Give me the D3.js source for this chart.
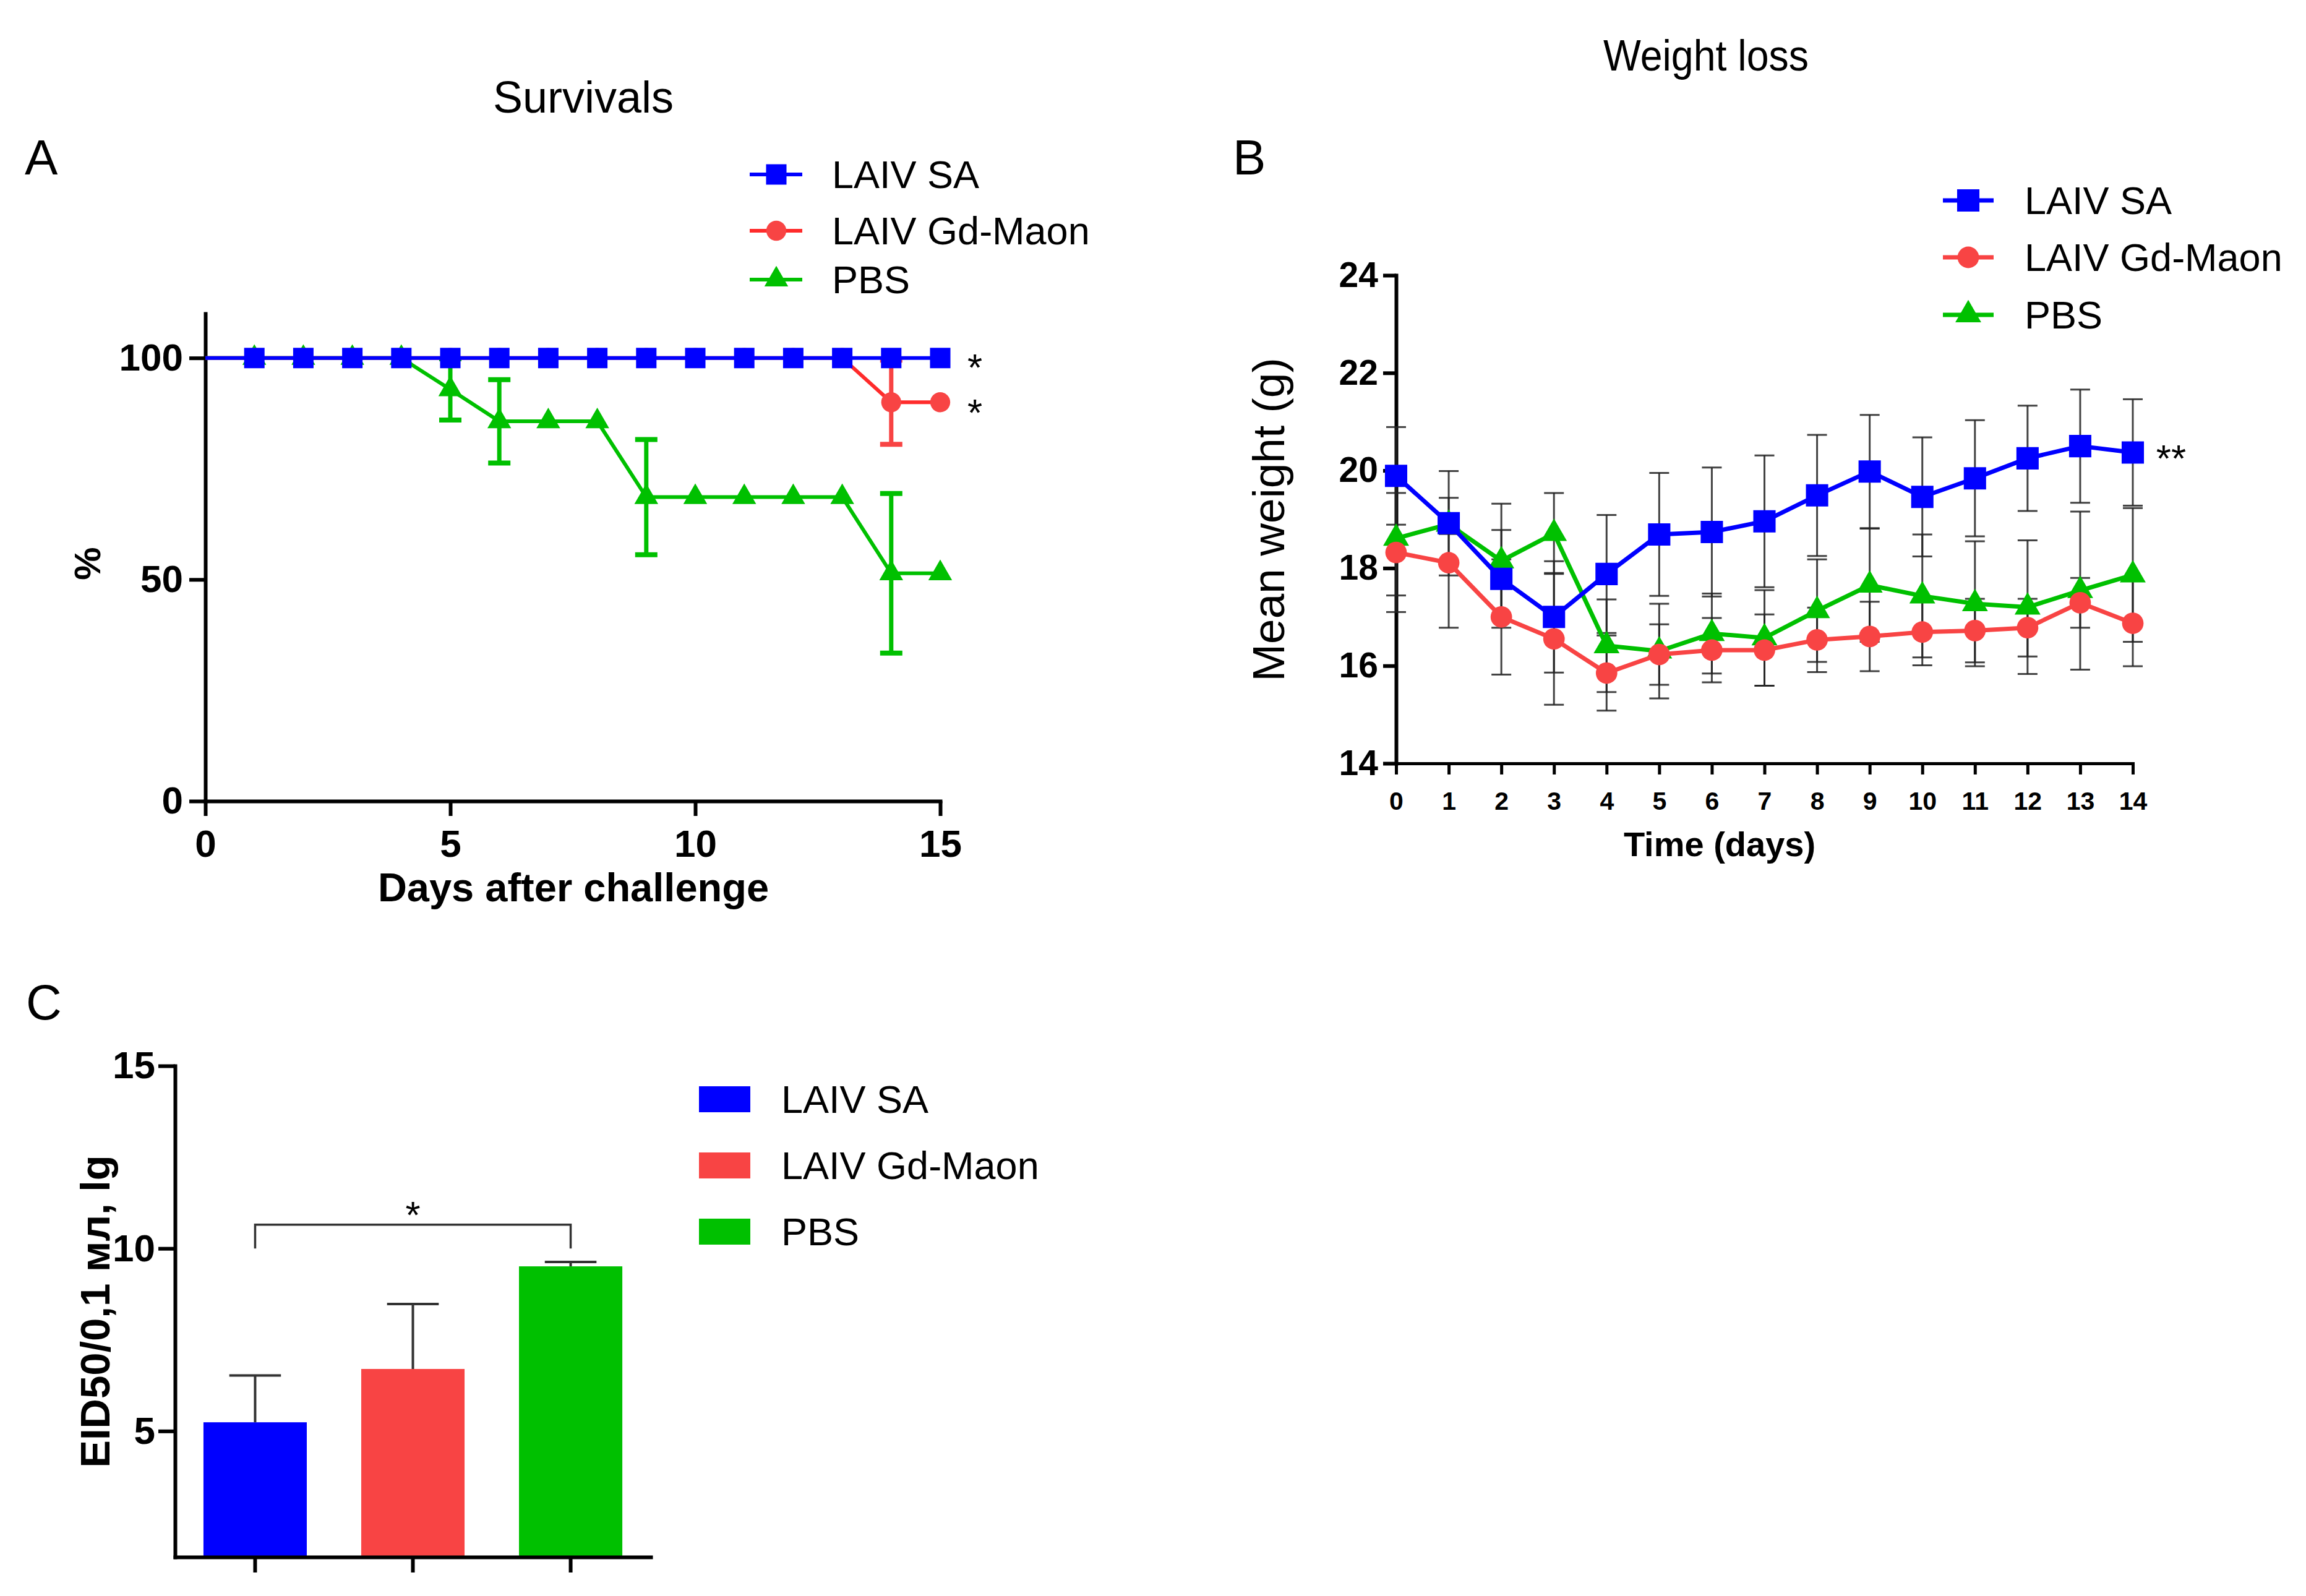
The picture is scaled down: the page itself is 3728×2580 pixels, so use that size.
<!DOCTYPE html>
<html><head><meta charset="utf-8">
<script src="https://cdn.jsdelivr.net/npm/d3@7"></script>
<style>
body{margin:0;background:#fff}
svg{display:block}
text{font-family:"Liberation Sans",Arial,sans-serif;fill:#000}
</style>
</head><body>
<svg id="chart" width="3728" height="2580"></svg>
<script>
// ---------- DATA ----------
const seriesNames = ["LAIV SA", "LAIV Gd-Maon", "PBS"];

// Panel A: survival (%)
const survDays = [0,1,2,3,4,5,6,7,8,9,10,11,12,13,14,15];
const survSA    = [100,100,100,100,100,100,100,100,100,100,100,100,100,100,100,100];
const survGd    = [100,100,100,100,100,100,100,100,100,100,100,100,100,100,90,90];
const survPBS   = [100,100,100,100,100,92.9,85.7,85.7,85.7,68.6,68.6,68.6,68.6,68.6,51.4,51.4];
const survSAErr = [0,0,0,0,0,0,0,0,0,0,0,0,0,0,0,0];
const survGdErr = [0,0,0,0,0,0,0,0,0,0,0,0,0,0,9.5,0];
const survPBSErr= [0,0,0,0,0,6.9,9.4,0,0,13,0,0,0,0,18,0];
const survXTicks = [0,5,10,15];
const survYTicks = [0,50,100];

// Panel B: mean weight (g) with SD
const weightDays = [0,1,2,3,4,5,6,7,8,9,10,11,12,13,14];
const weightSA    = [19.89,18.92,17.78,17.0,17.88,18.69,18.74,18.96,19.49,19.98,19.46,19.84,20.25,20.5,20.37];
const weightGd    = [18.32,18.11,17.0,16.55,15.85,16.23,16.32,16.32,16.53,16.6,16.69,16.72,16.78,17.29,16.87];
const weightPBS   = [18.61,18.9,18.15,18.71,16.41,16.3,16.66,16.57,17.13,17.65,17.43,17.27,17.2,17.54,17.86];
const weightSASd  = [1.0,1.07,1.0,1.14,1.21,1.26,1.32,1.35,1.24,1.16,1.22,1.19,1.08,1.16,1.09];
const weightGdSd  = [1.22,1.33,1.18,1.35,0.77,0.62,0.66,0.73,0.66,0.71,0.68,0.65,0.59,0.51,0.88];
const weightPBSSd = [1.17,0.2,1.17,0.83,0.95,0.97,0.82,0.98,1.05,1.16,1.26,1.28,1.37,1.62,1.37];
const weightXTicks = [0,1,2,3,4,5,6,7,8,9,10,11,12,13,14];
const weightYTicks = [14,16,18,20,22,24];

// Panel C: virus titre
const viralValues = [5.24, 6.70, 9.51];
const viralErr    = [1.28, 1.78, 0.12];
const viralYTicks = [5,10,15];

// ---------- STYLE ----------
const colors = ["#0000ff", "#f84444", "#00c000"];
const lineColors = ["#0000ff", "#ff2b2b", "#00c000"];
const symbols = [d3.symbolSquare, d3.symbolCircle, d3.symbolTriangle];
const symSizesA = [1090, 820, 640];
const symSizesB = [1300, 950, 760];
const FONT = '"Liberation Sans", Arial, sans-serif';

const svg = d3.select("#chart");
svg.append("rect").attr("width",3728).attr("height",2580).attr("fill","#fff");

function styleAxis(g, fs, w, bold=true) {
  g.attr("font-family", FONT).attr("font-size", fs).attr("font-weight", bold ? "bold" : "normal");
  g.selectAll("path.domain").attr("stroke","#000").attr("stroke-width", w).attr("stroke-linecap","square");
  g.selectAll(".tick line").attr("stroke","#000").attr("stroke-width", w);
  g.selectAll(".tick text").attr("fill","#000");
}

function label(txt, x, y, fs, opts={}) {
  const t = svg.append("text").attr("x", x).attr("y", y).attr("font-size", fs)
    .attr("font-family", FONT)
    .attr("font-weight", opts.bold ? "bold" : "normal")
    .attr("text-anchor", opts.anchor || "start")
    .text(txt);
  if (opts.rotate) t.attr("transform", `rotate(-90,${x},${y})`);
  if (opts.len) t.attr("textLength", opts.len).attr("lengthAdjust","spacingAndGlyphs");
  return t;
}

// ---------- PANEL A ----------
{
  const x = d3.scaleLinear().domain([0,15]).range([332,1520]);
  const y = d3.scaleLinear().domain([0,110]).range([1295,507]);
  const gA = svg.append("g");

  const ya = gA.append("g").attr("transform",`translate(${x(0)},0)`)
    .call(d3.axisLeft(y).tickValues(survYTicks).tickSize(26).tickSizeOuter(0).tickPadding(10));
  styleAxis(ya, 62, 6);
  const xa = gA.append("g").attr("transform",`translate(0,${y(0)})`)
    .call(d3.axisBottom(x).tickValues(survXTicks).tickSize(24).tickSizeOuter(0).tickPadding(22));
  styleAxis(xa, 62, 6);

  const series = [
    {v: survPBS, e: survPBSErr, i: 2},
    {v: survGd,  e: survGdErr,  i: 1},
    {v: survSA,  e: survSAErr,  i: 0}
  ];
  const line = d3.line().x((d,k)=>x(survDays[k])).y(d=>y(d));
  series.forEach(s => {
    const g = gA.append("g");
    survDays.forEach((d,k) => {
      if (!s.e[k]) return;
      const cx = x(d), y1 = y(s.v[k]-s.e[k]), y2 = y(Math.min(s.v[k]+s.e[k],100));
      g.append("line").attr("x1",cx).attr("x2",cx).attr("y1",y1).attr("y2",y2)
        .attr("stroke",colors[s.i]).attr("stroke-width",7);
      [y1,y2].forEach(yy => g.append("line").attr("x1",cx-18).attr("x2",cx+18).attr("y1",yy).attr("y2",yy)
        .attr("stroke",colors[s.i]).attr("stroke-width",8));
    });
    g.append("path").attr("d", line(s.v)).attr("fill","none")
      .attr("stroke", lineColors[s.i]).attr("stroke-width", 6);
    g.selectAll("path.m").data(s.v.slice(1)).join("path").attr("class","m")
      .attr("transform",(d,k)=>`translate(${x(survDays[k+1])},${y(d)})`)
      .attr("d", d3.symbol(symbols[s.i], symSizesA[s.i])())
      .attr("fill", colors[s.i]);
  });

  label("*", 1576, 615, 62, {anchor:"middle"});
  label("*", 1576, 688, 62, {anchor:"middle"});

  label("Days after challenge", 927, 1457, 65, {bold:true, anchor:"middle"});
  label("%", 162, 911, 60, {bold:true, anchor:"middle", rotate:true});
  label("Survivals", 943, 182, 72, {anchor:"middle"});
  label("A", 40, 282, 80);

  const rows = [282, 373, 452];
  seriesNames.forEach((n,i) => {
    gA.append("line").attr("x1",1212).attr("x2",1297).attr("y1",rows[i]).attr("y2",rows[i])
      .attr("stroke", lineColors[i]).attr("stroke-width",6);
    gA.append("path").attr("transform",`translate(1255,${rows[i]})`)
      .attr("d", d3.symbol(symbols[i], symSizesA[i])()).attr("fill", colors[i]);
    label(n, 1345, rows[i]+22, 63);
  });
}

// ---------- PANEL B ----------
{
  const x = d3.scaleLinear().domain([0,14]).range([2257,3448]);
  const y = d3.scaleLinear().domain([14,24]).range([1234,445]);
  const gB = svg.append("g");

  const ya = gB.append("g").attr("transform",`translate(${x(0)},0)`)
    .call(d3.axisLeft(y).tickValues(weightYTicks).tickSize(21).tickSizeOuter(0).tickPadding(8));
  styleAxis(ya, 57, 6);
  const xa = gB.append("g").attr("transform",`translate(0,${y(14)})`)
    .call(d3.axisBottom(x).tickValues(weightXTicks).tickSize(18).tickSizeOuter(0).tickPadding(28));
  styleAxis(xa, 41, 5);

  const series = [
    {v: weightPBS, e: weightPBSSd, i: 2},
    {v: weightGd,  e: weightGdSd,  i: 1},
    {v: weightSA,  e: weightSASd,  i: 0}
  ];
  const eg = gB.append("g").attr("stroke","#222").attr("stroke-width",3).attr("stroke-opacity",0.85);
  series.forEach(s => {
    weightDays.forEach((d,k) => {
      const cx = x(d), y1 = y(s.v[k]-s.e[k]), y2 = y(s.v[k]+s.e[k]);
      eg.append("line").attr("x1",cx).attr("x2",cx).attr("y1",y1).attr("y2",y2);
      [y1,y2].forEach(yy => eg.append("line").attr("x1",cx-16).attr("x2",cx+16).attr("y1",yy).attr("y2",yy));
    });
  });
  const line = d3.line().x((d,k)=>x(weightDays[k])).y(d=>y(d));
  series.forEach(s => {
    const g = gB.append("g");
    g.append("path").attr("d", line(s.v)).attr("fill","none")
      .attr("stroke", colors[s.i]).attr("stroke-width", 7).attr("stroke-linejoin","round");
    g.selectAll("path.m").data(s.v).join("path").attr("class","m")
      .attr("transform",(d,k)=>`translate(${x(weightDays[k])},${y(d)})`)
      .attr("d", d3.symbol(symbols[s.i], symSizesB[s.i])())
      .attr("fill", colors[s.i]);
  });

  label("**", 3510, 762, 62, {anchor:"middle"});
  label("Time (days)", 2780, 1384, 56, {bold:true, anchor:"middle"});
  label("Mean weight (g)", 2076, 840, 73, {anchor:"middle", rotate:true});
  label("Weight loss", 2758, 114, 70, {anchor:"middle", len:332});
  label("B", 1993, 282, 80);

  const rows = [324, 416, 509];
  seriesNames.forEach((n,i) => {
    gB.append("line").attr("x1",3141).attr("x2",3223).attr("y1",rows[i]).attr("y2",rows[i])
      .attr("stroke", colors[i]).attr("stroke-width",7);
    gB.append("path").attr("transform",`translate(3182,${rows[i]})`)
      .attr("d", d3.symbol(symbols[i], symSizesB[i])()).attr("fill", colors[i]);
    label(n, 3273, rows[i]+22, 63);
  });
}

// ---------- PANEL C ----------
{
  const x = d3.scaleBand().domain(seriesNames).range([283,1052]).paddingInner(0.345).paddingOuter(0.18);
  const y = d3.scaleLinear().domain([1.55,15]).range([2517,1723]);
  const gC = svg.append("g");

  gC.selectAll("rect.bar").data(viralValues).join("rect").attr("class","bar")
    .attr("x",(d,i)=>x(seriesNames[i])).attr("width",x.bandwidth())
    .attr("y",d=>y(d)).attr("height",d=>y(1.55)-y(d))
    .attr("fill",(d,i)=>colors[i]);
  const eg = gC.append("g").attr("stroke","#333").attr("stroke-width",4);
  viralValues.forEach((v,i) => {
    const cx = x(seriesNames[i]) + x.bandwidth()/2;
    const yt = y(v+viralErr[i]);
    eg.append("line").attr("x1",cx).attr("x2",cx).attr("y1",y(v)).attr("y2",yt);
    eg.append("line").attr("x1",cx-x.bandwidth()/4).attr("x2",cx+x.bandwidth()/4).attr("y1",yt).attr("y2",yt);
  });

  const ya = gC.append("g").attr("transform",`translate(283,0)`)
    .call(d3.axisLeft(y).tickValues(viralYTicks).tickSize(27).tickSizeOuter(0).tickPadding(5));
  styleAxis(ya, 62, 6);
  const xa = gC.append("g").attr("transform",`translate(0,${y(1.55)})`)
    .call(d3.axisBottom(x).tickSize(25).tickSizeOuter(0).tickFormat(""));
  styleAxis(xa, 40, 6);

  const b1 = x(seriesNames[0]) + x.bandwidth()/2, b3 = x(seriesNames[2]) + x.bandwidth()/2;
  gC.append("path").attr("d", `M${b1},${y(10.0)}V${y(10.65)}H${b3}V${y(10.0)}`)
    .attr("fill","none").attr("stroke","#333").attr("stroke-width",3.5);
  label("*", (b1+b3)/2, 1985, 62, {anchor:"middle"});

  label("EID50/0,1 мл, lg", 177, 2120, 67, {bold:true, anchor:"middle", rotate:true});
  label("C", 42, 1648, 80);

  const rows = [1777, 1884, 1991];
  seriesNames.forEach((n,i) => {
    gC.append("rect").attr("x",1130).attr("y",rows[i]-21).attr("width",83).attr("height",42).attr("fill",colors[i]);
    label(n, 1263, rows[i]+22, 63);
  });
}
</script>
</body></html>
